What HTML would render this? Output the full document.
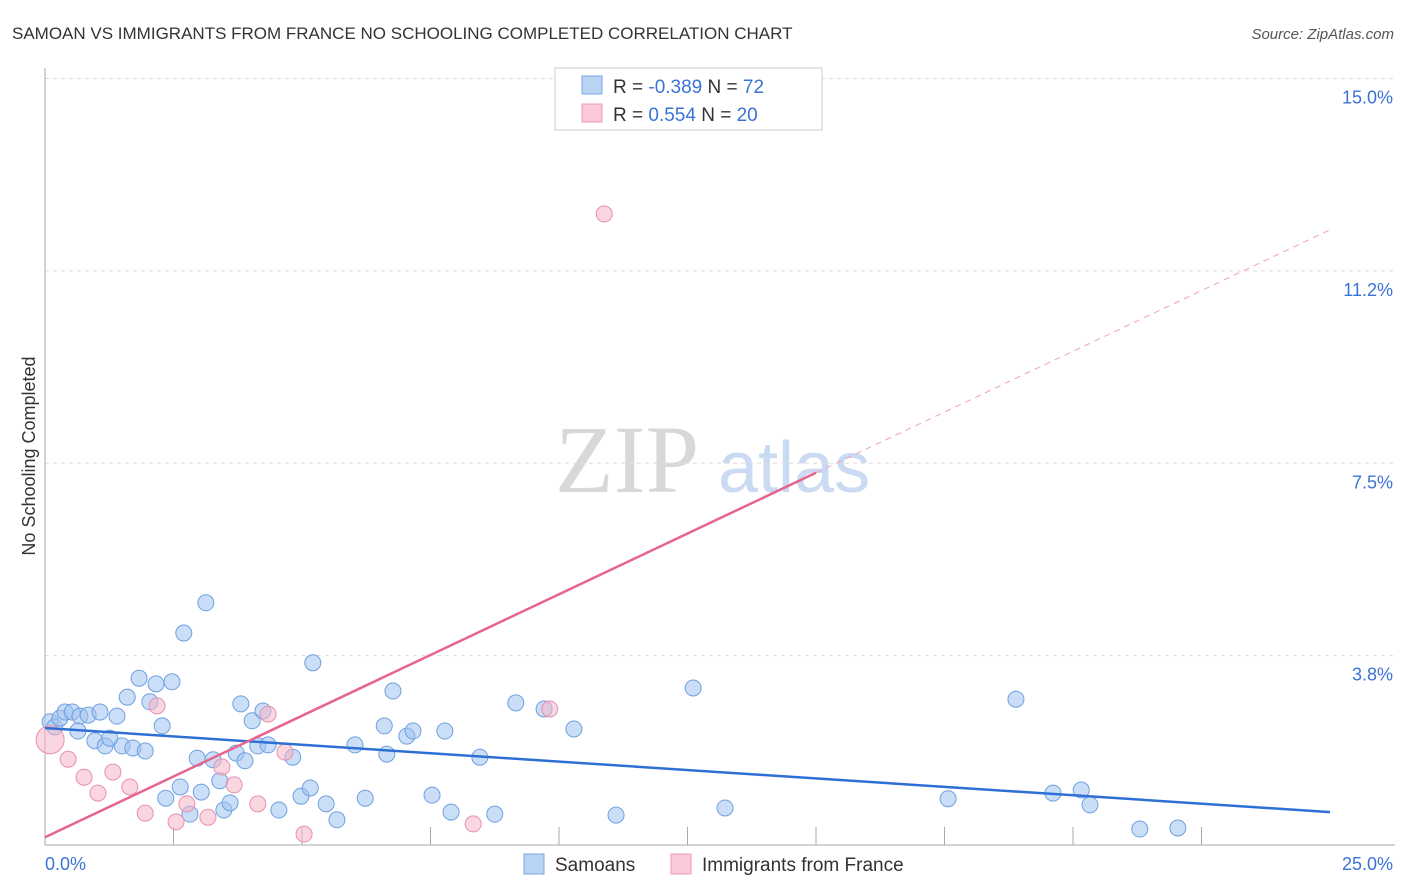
<!DOCTYPE html>
<html><head><meta charset="utf-8"><style>
body{margin:0;background:#fff;font-family:"Liberation Sans",sans-serif}
#c{position:relative;width:1406px;height:892px;overflow:hidden}
</style></head><body>
<div id="c">
<svg id="s" width="1406" height="892" xmlns="http://www.w3.org/2000/svg" font-family="Liberation Sans, sans-serif">
<text x="12" y="39" font-size="17" fill="#333">SAMOAN VS IMMIGRANTS FROM FRANCE NO SCHOOLING COMPLETED CORRELATION CHART</text>
<text x="1394" y="39" font-size="15" fill="#555" font-style="italic" text-anchor="end">Source: ZipAtlas.com</text>
<text x="35" y="456" font-size="18" fill="#333" text-anchor="middle" transform="rotate(-90 35 456)">No Schooling Completed</text>
<text x="555" y="492" font-size="96" fill="#d8d8d8" font-family="Liberation Serif, serif">ZIP</text>
<text x="718" y="492" font-size="72" fill="#c9daf2">atlas</text>
<g id="grid"></g><g id="marks"></g>
<g>
<rect x="555" y="68" width="267" height="62" fill="#fff" stroke="#ccc"/>
<rect x="582" y="76" width="20" height="18" fill="#b9d3f5" stroke="#7aa7e3"/>
<rect x="582" y="104" width="20" height="18" fill="#fbc9d8" stroke="#ec9ab3"/>
<text x="613" y="93" font-size="19" fill="#333">R = <tspan fill="#3a73d6">-0.389</tspan>   N = <tspan fill="#3a73d6">72</tspan></text>
<text x="613" y="121" font-size="19" fill="#333">R =  <tspan fill="#3a73d6"> 0.554</tspan>   N = <tspan fill="#3a73d6">20</tspan></text>
</g>
<g>
<rect x="524" y="854" width="20" height="20" fill="#b9d3f5" stroke="#7aa7e3"/>
<text x="555" y="871" font-size="19" fill="#333">Samoans</text>
<rect x="671" y="854" width="20" height="20" fill="#fbc9d8" stroke="#ec9ab3"/>
<text x="702" y="871" font-size="19" fill="#333">Immigrants from France</text>
</g>
</svg></div>
<script>
const yTicks=[15.0,11.2,7.5,3.8];
const yTickVals=[15,11.25,7.5,3.75];
const xTickLabels=["0.0%","25.0%"];
const samoanX=[0.10,0.19,0.29,0.39,0.53,0.68,0.84,0.64,0.97,1.07,1.17,1.26,1.40,1.50,1.60,1.71,1.83,1.95,2.04,2.16,2.28,2.47,2.70,2.35,2.63,2.82,2.96,3.04,3.13,3.27,3.40,3.48,3.60,3.72,3.81,3.89,4.03,4.14,4.24,4.34,4.55,4.82,4.98,5.16,5.21,5.47,5.68,6.03,6.23,6.60,6.65,6.77,7.04,7.16,7.53,7.78,7.90,8.46,8.75,9.16,9.71,10.29,11.11,12.61,13.23,17.57,18.89,19.61,20.16,20.33,21.30,22.04];
const samoanY=[2.46,2.36,2.53,2.65,2.65,2.57,2.59,2.28,2.09,2.65,1.99,2.14,2.57,1.99,2.94,1.95,3.31,1.89,2.85,3.20,2.38,3.24,4.19,0.97,1.19,0.66,1.75,1.09,4.78,1.72,1.31,0.74,0.88,1.85,2.81,1.70,2.48,1.99,2.67,2.01,0.74,1.77,1.01,1.17,3.61,0.86,0.55,2.01,0.97,2.38,1.83,3.06,2.18,2.28,1.03,2.28,0.70,1.77,0.66,2.83,2.71,2.32,0.64,3.12,0.78,0.96,2.90,1.07,1.13,0.84,0.37,0.39];
const franceX=[0.10,0.45,0.76,1.03,1.32,1.65,1.95,2.18,2.55,2.76,3.17,3.44,3.68,4.14,4.34,4.67,5.04,8.33,9.82,10.88];
const franceY=[2.11,1.73,1.38,1.07,1.48,1.19,0.68,2.77,0.51,0.86,0.60,1.58,1.23,0.86,2.61,1.87,0.27,0.47,2.71,12.36];
const samoanTrend=[2.34,0.70];
const franceTrend=[0.21,12.05];
const X0=45,X1=1330,Y0=848,PY=51.3;
const sx=v=>X0+v/25*(X1-X0), sy=v=>Y0-v*PY;
const NS="http://www.w3.org/2000/svg";
function mk(t,a,p){const e=document.createElementNS(NS,t);for(const k in a)e.setAttribute(k,a[k]);p.appendChild(e);return e;}
const g=document.getElementById('grid'),m=document.getElementById('marks');
yTickVals.forEach((v,i)=>{
 const l=mk('line',{x1:X0,x2:1395,y1:sy(v),y2:sy(v),stroke:'#ddd','stroke-dasharray':'4,4'},g);
 
 
 const t=mk('text',{x:1393,y:sy(v)+25,'font-size':18,fill:'#3a73d6','text-anchor':'end'},g);
 t.textContent=yTicks[i].toFixed(1)+'%';
 
 
});
mk('line',{x1:X0,x2:X0,y1:68,y2:845,stroke:'#aaa'},g);
mk('line',{x1:X0,x2:1395,y1:845,y2:845,stroke:'#aaa'},g);
for(let i=1;i<=9;i++){const l=mk('line',{x1:sx(i*2.5),x2:sx(i*2.5),y1:827,y2:845,stroke:'#aaa'},g);
 
 }
[[0,'start',X0],[1,'end',1393]].forEach(([i,a,x])=>{const t=mk('text',{x:x,y:870,'font-size':18,fill:'#3a73d6','text-anchor':a},g);t.textContent=xTickLabels[i];
 
 });
samoanX.forEach((x,i)=>{const c=mk('circle',{cx:sx(x),cy:sy(samoanY[i]),r:8,fill:'rgba(160,195,240,0.55)',stroke:'#6fa0e0','stroke-width':1},m);
 
 });
franceX.forEach((x,i)=>{const c=mk('circle',{cx:sx(x),cy:sy(franceY[i]),r:i===0?14:8,fill:'rgba(245,180,200,0.55)',stroke:'#e890ab','stroke-width':1},m);
 
 });
const bl=mk('line',{x1:sx(0),y1:sy(samoanTrend[0]),x2:sx(25),y2:sy(samoanTrend[1]),stroke:'#2e6fd6','stroke-width':2.5},m);


const fm=franceTrend[0]+(franceTrend[1]-franceTrend[0])*0.6;
const pl=mk('line',{x1:sx(0),y1:sy(franceTrend[0]),x2:sx(15),y2:sy(fm),stroke:'#e8648f','stroke-width':2.5},m);


const pd=mk('line',{x1:sx(15),y1:sy(fm),x2:sx(25),y2:sy(franceTrend[1]),stroke:'#f0a0b8','stroke-width':1,'stroke-dasharray':'6,5'},m);


</script>
</body></html>
